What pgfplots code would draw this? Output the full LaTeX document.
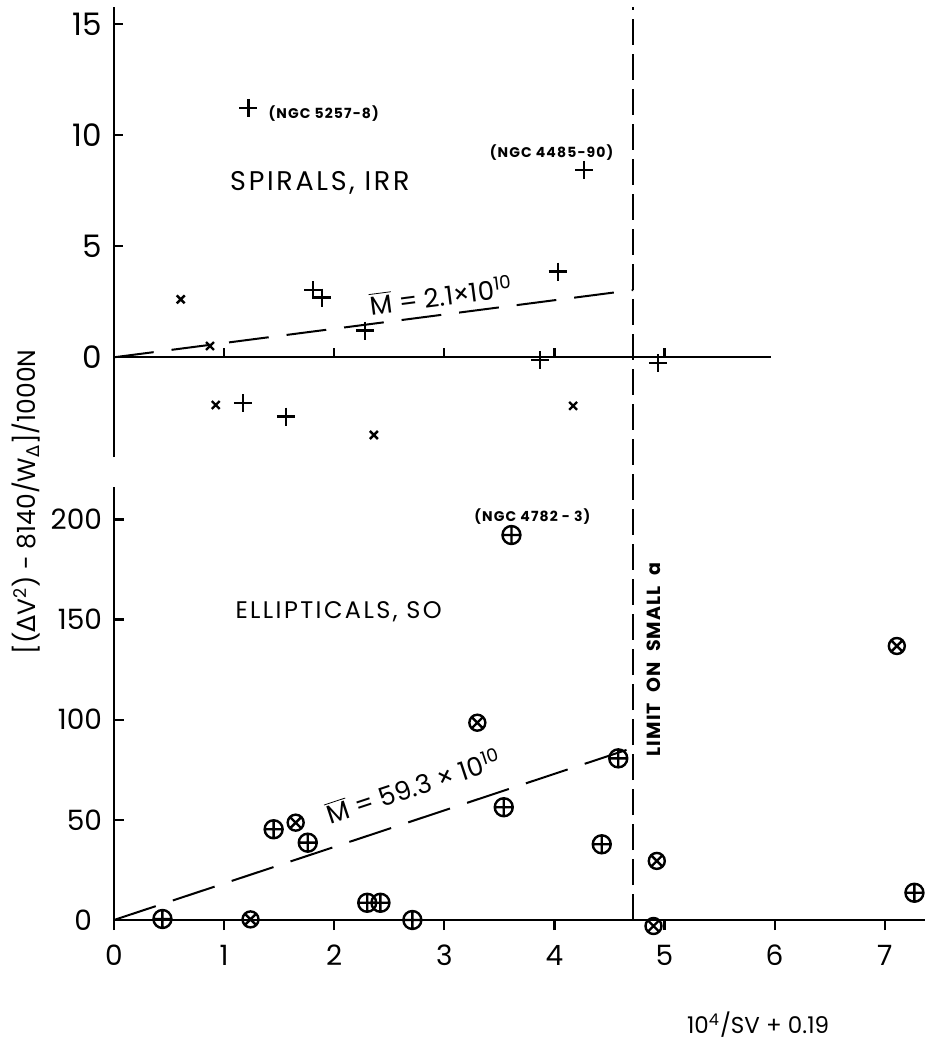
\documentclass[border=0pt]{standalone}
\usepackage{pgfplots}
\pgfplotsset{compat=1.18}
\usepackage{fontspec}
\setmainfont{Poppins}
\newfontfamily\dv{DejaVu Sans}
\newcommand{\fs}[1]{\fontsize{#1}{#1}\selectfont}
\newcommand{\Mbar}{\ensuremath{\overline{\hbox{M}}}}
\begin{document}
\begin{tikzpicture}
\pgfplotsset{
  every axis/.append style={
    /pgf/number format/assume math mode=true,
    every tick/.style={line width=1.1pt, black},
    clip=false,
  },
}
% ---------------- lower panel ----------------
\begin{axis}[
  at={(0,0)}, anchor=south west,
  x=55.05pt, y=1.0015pt,
  xmin=0, xmax=7.37, ymin=0, ymax=216,
  axis x line=bottom, axis y line=left,
  axis line style={line width=1.2pt, -},
  xtick={0,...,7}, ytick={50,100,150,200},
  extra y ticks={0},
  extra y tick style={yticklabel style={xshift=-5pt}},
  xtick align=outside, ytick align=inside,
  major tick length=5pt,
  xticklabel style={font=\fs{14}, yshift=-4pt},
  yticklabel style={font=\fs{14}, xshift=-2.5pt},
]
\addplot[line width=1pt, dash pattern=on 13pt off 4.5pt] coordinates {(4.715,0) (4.715,455.8)};
\addplot[line width=1pt, dash pattern=on 22pt off 9pt] coordinates {(0,0) (4.715,86)};
\addplot[only marks, mark=oplus, mark size=4.5pt, line width=1.2pt, mark options={fill=white}] coordinates {
 (0.44,0.5) (1.45,45.3) (1.76,38.6) (2.30,8.6) (2.42,8.6) (2.71,0)
 (3.61,192.2) (3.54,56.3) (4.43,37.8) (4.58,80.7) (7.27,13.6)};
\addplot[only marks, mark=otimes, mark size=4pt, line width=1.2pt, mark options={fill=white}] coordinates {
 (1.24,0.3) (1.65,48.6) (3.30,98.5) (4.93,29.5) (4.90,-3.0) (7.11,136.8)};
\node[font=\fs{12}\addfontfeature{LetterSpace=10}] at (axis cs:2.04,154) {ELLIPTICALS, SO};
\node[font=\bfseries\fs{7}\addfontfeature{LetterSpace=8}] at (axis cs:3.80,201.6) {(NGC 4782 - 3)};
\node[font=\fs{13}, rotate=18.3] at (axis cs:2.72,67) {\Mbar\ = 59.3 × 10\textsuperscript{10}};
\node[font=\bfseries\fs{9.5}\addfontfeature{LetterSpace=6}, rotate=90] at (axis cs:4.90,130) {LIMIT \ ON \ SMALL \ a};
\node[font=\fs{11.5}] at (axis cs:5.85,-52.4) {10\textsuperscript{4}/SV + 0.19};
\end{axis}
% ---------------- upper panel ----------------
\begin{axis}[
  at={(0,231.4pt)}, anchor=south west,
  x=55.05pt, y=11.1pt,
  xmin=0, xmax=5.97, ymin=-4.5, ymax=15.8,
  axis x line=middle, axis y line=left,
  axis line style={line width=1.2pt, -},
  xtick={1,2,3,4,5}, xticklabels={},
  ytick={0,5,10,15},
  xtick align=inside, ytick align=inside,
  major tick length=4.5pt,
  yticklabel style={font=\fs{15.5}, xshift=-2.5pt},
]
\addplot[line width=1pt, dash pattern=on 20pt off 9pt] coordinates {(0,0) (4.715,3.03)};
\addplot[only marks, mark=+, mark size=4.5pt, line width=1.2pt] coordinates {
 (1.22,11.23) (1.17,-2.07) (1.56,-2.67) (1.81,3.03) (1.89,2.69) (2.28,1.20)
 (4.03,3.86) (4.27,8.44) (3.87,-0.12) (4.94,-0.27)};
\addplot[only marks, mark=x, mark size=2.8pt, line width=1.2pt] coordinates {
 (0.606,2.61) (0.872,0.51) (0.924,-2.15) (2.36,-3.50) (4.17,-2.19)};
\node[font=\fs{13.5}\addfontfeature{LetterSpace=10}] at (axis cs:1.87,7.85) {SPIRALS, IRR};
\node[font=\bfseries\fs{7}\addfontfeature{LetterSpace=8}, anchor=west] at (axis cs:1.34,11.0) {(NGC 5257-8)};
\node[font=\bfseries\fs{7}\addfontfeature{LetterSpace=8}] at (axis cs:3.975,9.2) {(NGC 4485-90)};
\node[font=\fs{13}, rotate=7.4] at (axis cs:2.97,2.8) {\Mbar\ = 2.1×10\textsuperscript{10}};
\end{axis}
\node[font=\fs{12.5}, rotate=90] at (-44pt,209pt) {[({\dv Δ}V\textsuperscript{2}) - 8140/W\textsubscript{\dv Δ}]/1000N};
\path[use as bounding box] (-57pt,-67.5pt) rectangle (408.5pt,460pt);
\end{tikzpicture}
\end{document}
